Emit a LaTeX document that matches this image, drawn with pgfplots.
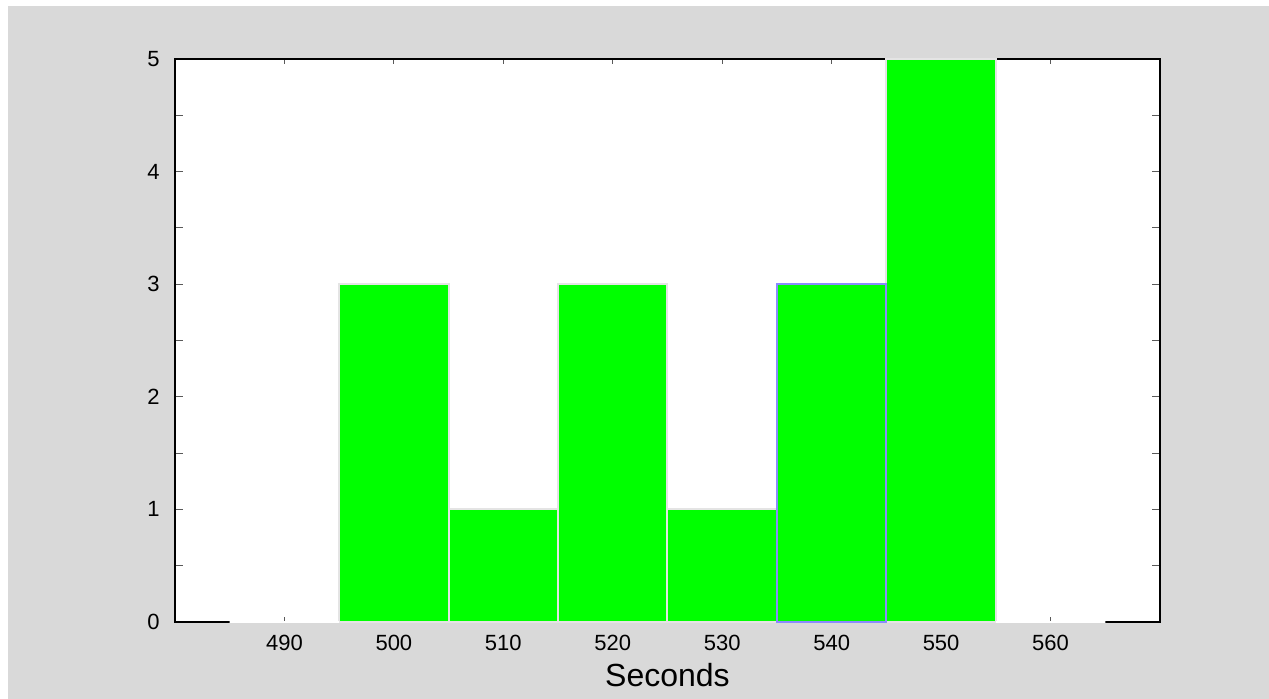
\documentclass[border=0pt]{standalone}
\usepackage{fontspec}
\setmainfont{Liberation Sans}
\usepackage{pgfplots}
\pgfplotsset{compat=1.18}
\definecolor{bg}{HTML}{D9D9D9}
\definecolor{bargreen}{HTML}{00FF00}
\definecolor{baredge}{HTML}{E4E4E4}
\definecolor{seledge}{HTML}{8A8AFF}
\begin{document}
\begin{tikzpicture}
\fill[white] (0,0) rectangle (634.5pt,349.5pt);
\fill[bg] (4pt,0) rectangle (634.5pt,346.5pt);
\begin{axis}[
  at={(87.5pt,38.5pt)}, anchor=south west,
  scale only axis, width=492.5pt, height=281.5pt,
  xmin=480, xmax=570, ymin=0, ymax=5,
  clip=false,
  axis background/.style={fill=white},
  axis line style={black, line width=1pt},
  xtick={490,500,...,560},
  ytick={0,1,2,3,4,5},
  minor ytick={0.5,1.5,2.5,3.5,4.5},
  tick pos=both,
  tick align=inside,
  major tick length=4pt, minor tick length=4pt,
  tick style={gray!70!black, line width=0.5pt},
  major x tick style={/pgfplots/major tick length=2.5pt},
  /pgf/number format/assume math mode=true,
  /pgf/number format/1000 sep={},
  ticklabel style={font=\fontsize{11}{13}\selectfont},
  xticklabel style={anchor=base, yshift=-14.5pt},
  yticklabel style={anchor=east, inner sep=0pt, xshift=-7.5pt},
  xlabel={Seconds},
  xlabel style={font=\fontsize{16}{19}\selectfont, at={(axis description cs:0.5,0)}, anchor=base, yshift=-32.5pt},
]
\addplot[ybar, bar width=10, bar shift=0pt, fill=bargreen, draw=baredge, line width=1pt]
  coordinates {(500,3) (510,1) (520,3) (530,1) (550,5)};
\addplot[ybar, bar width=10, bar shift=0pt, fill=bargreen, draw=seledge, line width=1pt]
  coordinates {(540,3)};
\addplot[ybar, bar width=10, bar shift=0pt, draw=white, line width=1.3pt]
  coordinates {(490,0) (560,0)};
\end{axis}
\end{tikzpicture}
\end{document}
